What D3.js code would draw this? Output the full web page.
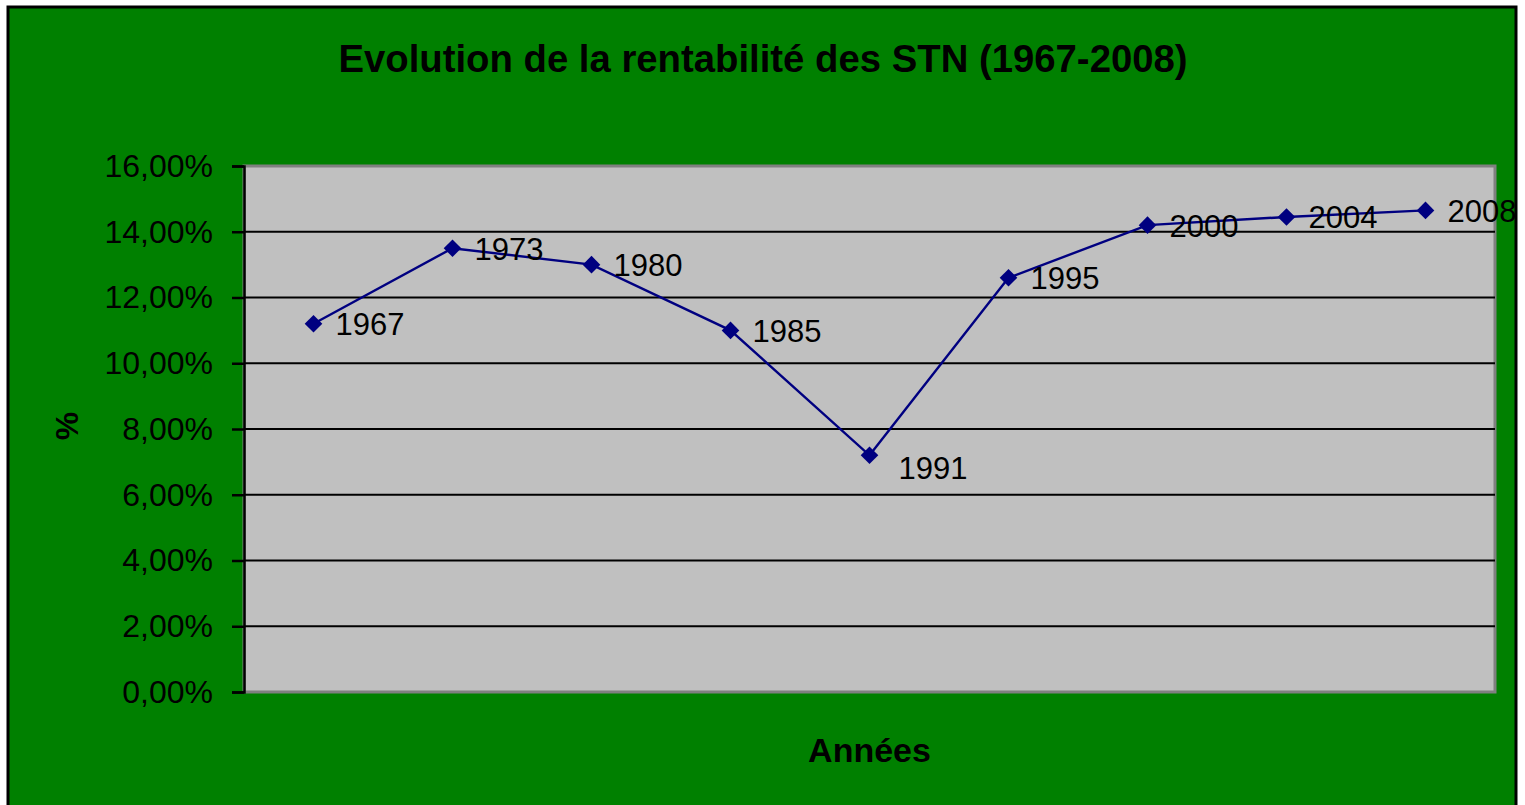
<!DOCTYPE html>
<html>
<head>
<meta charset="utf-8">
<script src="https://cdn.jsdelivr.net/npm/d3@7"></script>
<style>
  html, body { margin: 0; padding: 0; background: #ffffff; }
  svg { display: block; font-family: "Liberation Sans", Arial, sans-serif; }
</style>
</head>
<body>
<svg id="chart" width="1525" height="805"></svg>
<script>
const years = ["1967", "1973", "1980", "1985", "1991", "1995", "2000", "2004", "2008"];
const rentabilite = [0.112, 0.135, 0.130, 0.110, 0.072, 0.126, 0.142, 0.1445, 0.1465];
const yTicks = [0, 0.02, 0.04, 0.06, 0.08, 0.10, 0.12, 0.14, 0.16];
const titleText = "Evolution de la rentabilité des STN (1967-2008)";
const xTitle = "Années";
const yTitle = "%";

const svg = d3.select("#chart");

// outer chart area
svg.append("rect")
  .attr("x", 8).attr("y", 7).attr("width", 1508).attr("height", 805)
  .attr("fill", "#008000").attr("stroke", "#000").attr("stroke-width", 3);

const plot = { left: 244, top: 166, right: 1495, bottom: 692 };

const x = d3.scaleBand().domain(years).range([plot.left, plot.right]);
const y = d3.scaleLinear().domain([0, 0.16]).range([plot.bottom, plot.top]);

// plot area
svg.append("rect")
  .attr("x", plot.left).attr("y", plot.top)
  .attr("width", plot.right - plot.left).attr("height", plot.bottom - plot.top)
  .attr("fill", "#C0C0C0").attr("stroke", "#808080").attr("stroke-width", 3);

// gridlines
svg.append("g")
  .selectAll("line")
  .data(yTicks.filter(t => t > 0 && t < 0.16))
  .join("line")
  .attr("x1", plot.left).attr("x2", plot.right)
  .attr("y1", d => y(d)).attr("y2", d => y(d))
  .attr("stroke", "#000").attr("stroke-width", 2);

// y axis
const fmt = v => (v * 100).toFixed(2).replace(".", ",") + "%";
const yAxis = d3.axisLeft(y).tickValues(yTicks).tickFormat(fmt).tickSize(12).tickPadding(19);
const ag = svg.append("g").attr("transform", `translate(${plot.left},0)`).call(yAxis);
ag.select(".domain").attr("stroke", "#000").attr("stroke-width", 2.5);
ag.selectAll(".tick line").attr("stroke", "#000").attr("stroke-width", 2.5);
ag.selectAll(".tick text")
  .attr("font-size", 32).attr("fill", "#000")
  .attr("font-family", "Liberation Sans, Arial, sans-serif");

// line
const line = d3.line()
  .x((d, i) => x(years[i]) + x.bandwidth() / 2)
  .y(d => y(d));
svg.append("path")
  .datum(rentabilite)
  .attr("d", line)
  .attr("fill", "none")
  .attr("stroke", "#000080")
  .attr("stroke-width", 2.4);

// markers
const diamond = d3.symbol().type(d3.symbolSquare).size(155);
svg.append("g")
  .selectAll("path")
  .data(rentabilite)
  .join("path")
  .attr("d", diamond)
  .attr("transform", (d, i) => `translate(${x(years[i]) + x.bandwidth() / 2},${y(d)}) rotate(45)`)
  .attr("fill", "#000080");

// data labels
const minV = d3.min(rentabilite);
svg.append("g")
  .selectAll("text")
  .data(rentabilite)
  .join("text")
  .attr("x", (d, i) => x(years[i]) + x.bandwidth() / 2 + (d === minV ? 29 : 22))
  .attr("y", (d, i) => y(d) + (d === minV ? 13 : 1))
  .attr("dominant-baseline", "central")
  .attr("font-size", 31)
  .attr("fill", "#000")
  .text((d, i) => years[i]);

// title
svg.append("text")
  .attr("x", 763).attr("y", 72)
  .attr("text-anchor", "middle")
  .attr("font-size", 38.3).attr("font-weight", "bold")
  .text(titleText);

// x title
svg.append("text")
  .attr("x", (plot.left + plot.right) / 2).attr("y", 762)
  .attr("text-anchor", "middle")
  .attr("font-size", 34).attr("font-weight", "bold")
  .text(xTitle);

// y title
svg.append("text")
  .attr("transform", `translate(78,${(plot.top + plot.bottom) / 2 - 3}) rotate(-90)`)
  .attr("text-anchor", "middle")
  .attr("font-size", 32).attr("font-weight", "bold")
  .text(yTitle);
</script>
</body>
</html>
